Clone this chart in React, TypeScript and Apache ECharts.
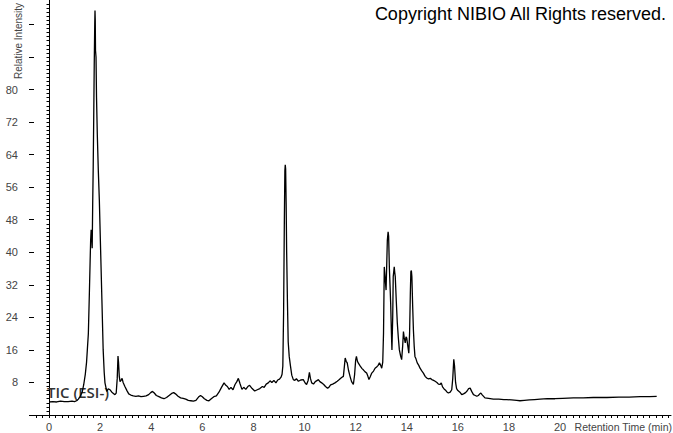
import React, { useEffect, useRef } from "react";
import * as echarts from "echarts";

const retentionTime = [
  0.0, 0.15, 0.3, 0.45, 0.6, 0.75, 0.9, 1.0, 1.08, 1.15, 1.22, 1.3, 1.36, 1.42, 1.47, 1.5, 1.54, 1.58, 1.61, 1.63,
  1.65, 1.67, 1.69, 1.71, 1.73, 1.75, 1.77, 1.79, 1.8, 1.81, 1.82, 1.84, 1.86, 1.89, 1.93, 1.97, 2.02, 2.07, 2.12, 2.16,
  2.19, 2.26, 2.32, 2.39, 2.46, 2.52, 2.58, 2.63, 2.67, 2.7, 2.72, 2.75, 2.78, 2.82, 2.86, 2.9, 2.97, 3.05, 3.12, 3.2,
  3.3, 3.4, 3.5, 3.6, 3.7, 3.8, 3.9, 3.98, 4.05, 4.12, 4.2, 4.3, 4.4, 4.5, 4.6, 4.7, 4.8, 4.88, 4.95, 5.05,
  5.15, 5.25, 5.35, 5.45, 5.55, 5.65, 5.75, 5.85, 5.93, 6.0, 6.08, 6.18, 6.26, 6.35, 6.45, 6.55, 6.65, 6.75, 6.85, 6.92,
  6.98, 7.05, 7.12, 7.2, 7.28, 7.35, 7.41, 7.47, 7.55, 7.62, 7.7, 7.78, 7.85, 7.95, 8.05, 8.15, 8.25, 8.35, 8.42, 8.5,
  8.58, 8.65, 8.72, 8.8, 8.88, 8.95, 9.02, 9.08, 9.12, 9.15, 9.18, 9.21, 9.23, 9.245, 9.26, 9.28, 9.3, 9.33, 9.36, 9.4,
  9.45, 9.5, 9.56, 9.62, 9.68, 9.76, 9.85, 9.95, 10.03, 10.08, 10.14, 10.19, 10.23, 10.28, 10.35, 10.42, 10.5, 10.54, 10.6, 10.67,
  10.75, 10.82, 10.9, 10.95, 11.02, 11.1, 11.19, 11.28, 11.36, 11.45, 11.52, 11.56, 11.59, 11.63, 11.67, 11.72, 11.78, 11.84, 11.91, 11.96,
  12.0, 12.03, 12.07, 12.1, 12.18, 12.25, 12.3, 12.37, 12.43, 12.48, 12.52, 12.57, 12.63, 12.7, 12.76, 12.82, 12.88, 12.93, 12.98, 13.02,
  13.06, 13.09, 13.12, 13.15, 13.19, 13.22, 13.24, 13.27, 13.29, 13.32, 13.35, 13.37, 13.4, 13.42, 13.45, 13.47, 13.51, 13.53, 13.55, 13.59,
  13.63, 13.67, 13.71, 13.76, 13.8, 13.84, 13.87, 13.9, 13.94, 13.97, 14.0, 14.04, 14.08, 14.11, 14.14, 14.16, 14.18, 14.2, 14.23, 14.26,
  14.29, 14.32, 14.36, 14.41, 14.47, 14.52, 14.58, 14.65, 14.72, 14.78, 14.85, 14.92, 14.98, 15.05, 15.11, 15.18, 15.24, 15.3, 15.35, 15.4,
  15.46, 15.53, 15.58, 15.63, 15.7, 15.76, 15.8, 15.84, 15.87, 15.91, 15.95, 16.0, 16.08, 16.15, 16.22, 16.3, 16.36, 16.42, 16.48, 16.54,
  16.61, 16.68, 16.74, 16.8, 16.86, 16.9, 16.96, 17.06, 17.2, 17.39, 17.6, 17.8, 17.91, 18.1, 18.3, 18.43, 18.6, 18.8, 19.0, 19.22,
  19.5, 19.8, 20.1, 20.52, 20.9, 21.3, 21.83, 22.3, 22.7, 23.13, 23.5, 23.78,
];

const intensity = [
  3.2, 3.3, 3.2, 3.4, 3.3, 3.3, 3.4, 3.3, 3.5, 3.9, 4.6, 5.6, 7.5, 10, 13, 16, 20, 30, 38, 43,
  45.5, 44, 41, 52, 61, 73, 86, 96, 99.4, 97, 89.6, 88, 78, 69, 60, 52.8, 40.5, 28.3, 16, 10.5,
  7.9, 5.8, 6.4, 6.2, 5.6, 5.3, 5.0, 5.4, 9, 14.5, 13, 9.5, 8.2, 8.5, 9.0, 8.0, 7.0, 6.0, 5.2, 4.9,
  4.7, 4.6, 4.7, 4.5, 4.6, 4.7, 5.0, 5.5, 5.8, 5.4, 4.8, 4.5, 4.2, 4.0, 4.3, 4.8, 5.3, 5.5, 5.2, 4.6,
  4.2, 4.1, 3.9, 3.6, 3.5, 3.4, 3.6, 4.4, 4.8, 4.5, 4.0, 3.6, 3.5, 4.0, 4.5, 4.7, 5.6, 6.8, 7.9, 7.3,
  7.0, 6.3, 6.8, 6.2, 7.5, 8.2, 9.0, 7.8, 6.3, 6.8, 6.3, 7.0, 7.3, 6.5, 5.9, 6.2, 6.5, 7.0, 6.8, 7.6,
  7.9, 8.4, 8.0, 8.5, 7.9, 8.6, 8.8, 9.3, 10, 12, 25, 48, 60, 61.5, 60.5, 52, 40, 28, 18, 14.4,
  12, 9.8, 8.7, 8.5, 8.9, 8.3, 8.6, 8.7, 7.8, 7.5, 8.5, 10.5, 9.0, 7.9, 7.6, 8.2, 8.5, 8.7, 8.2, 7.9,
  7.5, 7.0, 6.6, 6.8, 7.4, 7.6, 7.9, 8.3, 8.7, 9.2, 9.5, 12, 14, 13.2, 12.8, 11, 9.5, 8.2, 7.5, 10,
  13.5, 14.4, 13.2, 12.8, 12.0, 11.4, 11.1, 10.6, 10.3, 9.5, 8.7, 9.4, 10.3, 10.8, 11.5, 11.8, 12.2, 12.8, 12.2, 11.5,
  13, 20, 36.4, 34, 30.7, 38, 43, 45, 44, 36, 31, 27.5, 20, 16, 24, 34, 36.4, 35, 34, 28,
  22.6, 19, 16, 14.5, 13.6, 17, 20.5, 19, 17.7, 19.2, 18.9, 17, 15.2, 20, 30, 35.2, 35.5, 34, 27, 20.9,
  17, 14.4, 13.8, 12.8, 12.2, 11.5, 10.9, 10.3, 9.5, 9.1, 8.9, 9.0, 8.7, 8.5, 8.3, 8.0, 7.6, 7.5, 7.9, 6.9,
  6.4, 6.0, 5.6, 5.4, 5.6, 6.2, 9, 13.7, 12, 8, 6.5, 6.0, 5.6, 5.0, 5.2, 5.5, 5.9, 6.5, 6.6, 5.8,
  5.0, 4.8, 4.6, 4.8, 5.2, 5.4, 4.9, 4.2, 4.1, 3.9, 3.9, 3.8, 3.8, 3.7, 3.6, 3.5, 3.6, 3.7, 3.8, 3.9,
  4.0, 4.0, 4.1, 4.2, 4.2, 4.3, 4.3, 4.4, 4.4, 4.5, 4.5, 4.6,
];

const xTickLabels = [0, 2, 4, 6, 8, 10, 12, 14, 16, 18, 20];
const yTickLabels = [8, 16, 24, 32, 40, 48, 56, 64, 72, 80];
const copyrightText = "Copyright NIBIO All Rights reserved.";
const traceLabel = "TIC (ESI-)";
const xAxisName = "Retention Time (min)";
const yAxisName = "Relative Intensity";

const X_MIN = -0.587;
const X_MAX = 24.34;
const Y_MIN = 0;
const Y_MAX = 102;

export default function App() {
  const ref = useRef<HTMLDivElement>(null);
  useEffect(() => {
    if (!ref.current) return;
    const chart = echarts.init(ref.current, null, { renderer: "svg" });
    const data = retentionTime.map((t, i) => [t, intensity[i]]);
    const xMinorTicks: number[] = [];
    for (let k = -2; k <= 97; k++) xMinorTicks.push(k * 0.25);
    const yMinorTicks: number[] = [];
    for (let k = 0; k <= 101; k++) yMinorTicks.push(k);
    const yMajorTicks: number[] = [];
    for (let k = 0; k <= 96; k += 8) yMajorTicks.push(k);
    const font = "Liberation Sans, Arial, sans-serif";

    chart.setOption({
      animation: false,
      backgroundColor: "#fff",
      grid: { left: 34, right: 2, top: 0, bottom: 18, containLabel: false },
      xAxis: [
        {
          type: "value",
          min: X_MIN,
          max: X_MAX,
          axisLine: { show: true, lineStyle: { color: "#000", width: 1 } },
          axisTick: { show: true, customValues: xMinorTicks, length: 3, lineStyle: { color: "#000" } },
          axisLabel: { customValues: xTickLabels, color: "#444", fontSize: 11, fontFamily: font, margin: 6 },
          splitLine: { show: false },
        },
      ],
      yAxis: [
        {
          type: "value",
          min: Y_MIN,
          max: Y_MAX,
          axisLine: { show: true, lineStyle: { color: "#000", width: 1 } },
          axisTick: { show: true, customValues: yMinorTicks, length: 2.5, lineStyle: { color: "#000" } },
          axisLabel: { customValues: yTickLabels, color: "#444", fontSize: 11, fontFamily: font, margin: 16 },
          splitLine: { show: false },
        },
        {
          type: "value",
          min: Y_MIN,
          max: Y_MAX,
          position: "left",
          axisLine: { show: false },
          axisTick: { show: true, customValues: yMajorTicks, length: 5, lineStyle: { color: "#000" } },
          axisLabel: { show: false },
          splitLine: { show: false },
        },
      ],
      series: [
        {
          type: "line",
          data,
          xAxisIndex: 0,
          yAxisIndex: 0,
          showSymbol: false,
          symbol: "none",
          lineStyle: { color: "#000", width: 1.3 },
          z: 2,
        },
      ],
      graphic: [
        {
          type: "text",
          x: 666,
          y: 14,
          style: { text: copyrightText, fontSize: 18, fontFamily: font, fill: "#000", align: "right", verticalAlign: "middle" },
        },
        {
          type: "text",
          x: 47,
          y: 392,
          z: 1,
          style: { text: traceLabel, fontSize: 15, fontFamily: "Open Sans, sans-serif", fontWeight: 600, fill: "#333", align: "left", verticalAlign: "middle" },
        },
        {
          type: "text",
          x: 672,
          y: 427,
          style: { text: xAxisName, fontSize: 10.5, fontFamily: font, fill: "#444", align: "right", verticalAlign: "middle" },
        },
        {
          type: "text",
          x: 18,
          y: 41,
          rotation: Math.PI / 2,
          style: { text: yAxisName, fontSize: 10, fontFamily: font, fill: "#444", align: "center", verticalAlign: "middle" },
        },
      ],
    });
    return () => chart.dispose();
  }, []);
  return (
    <div
      ref={ref}
      style={{ position: "fixed", left: 0, top: 0, width: 673, height: 433, background: "#fff" }}
    />
  );
}
